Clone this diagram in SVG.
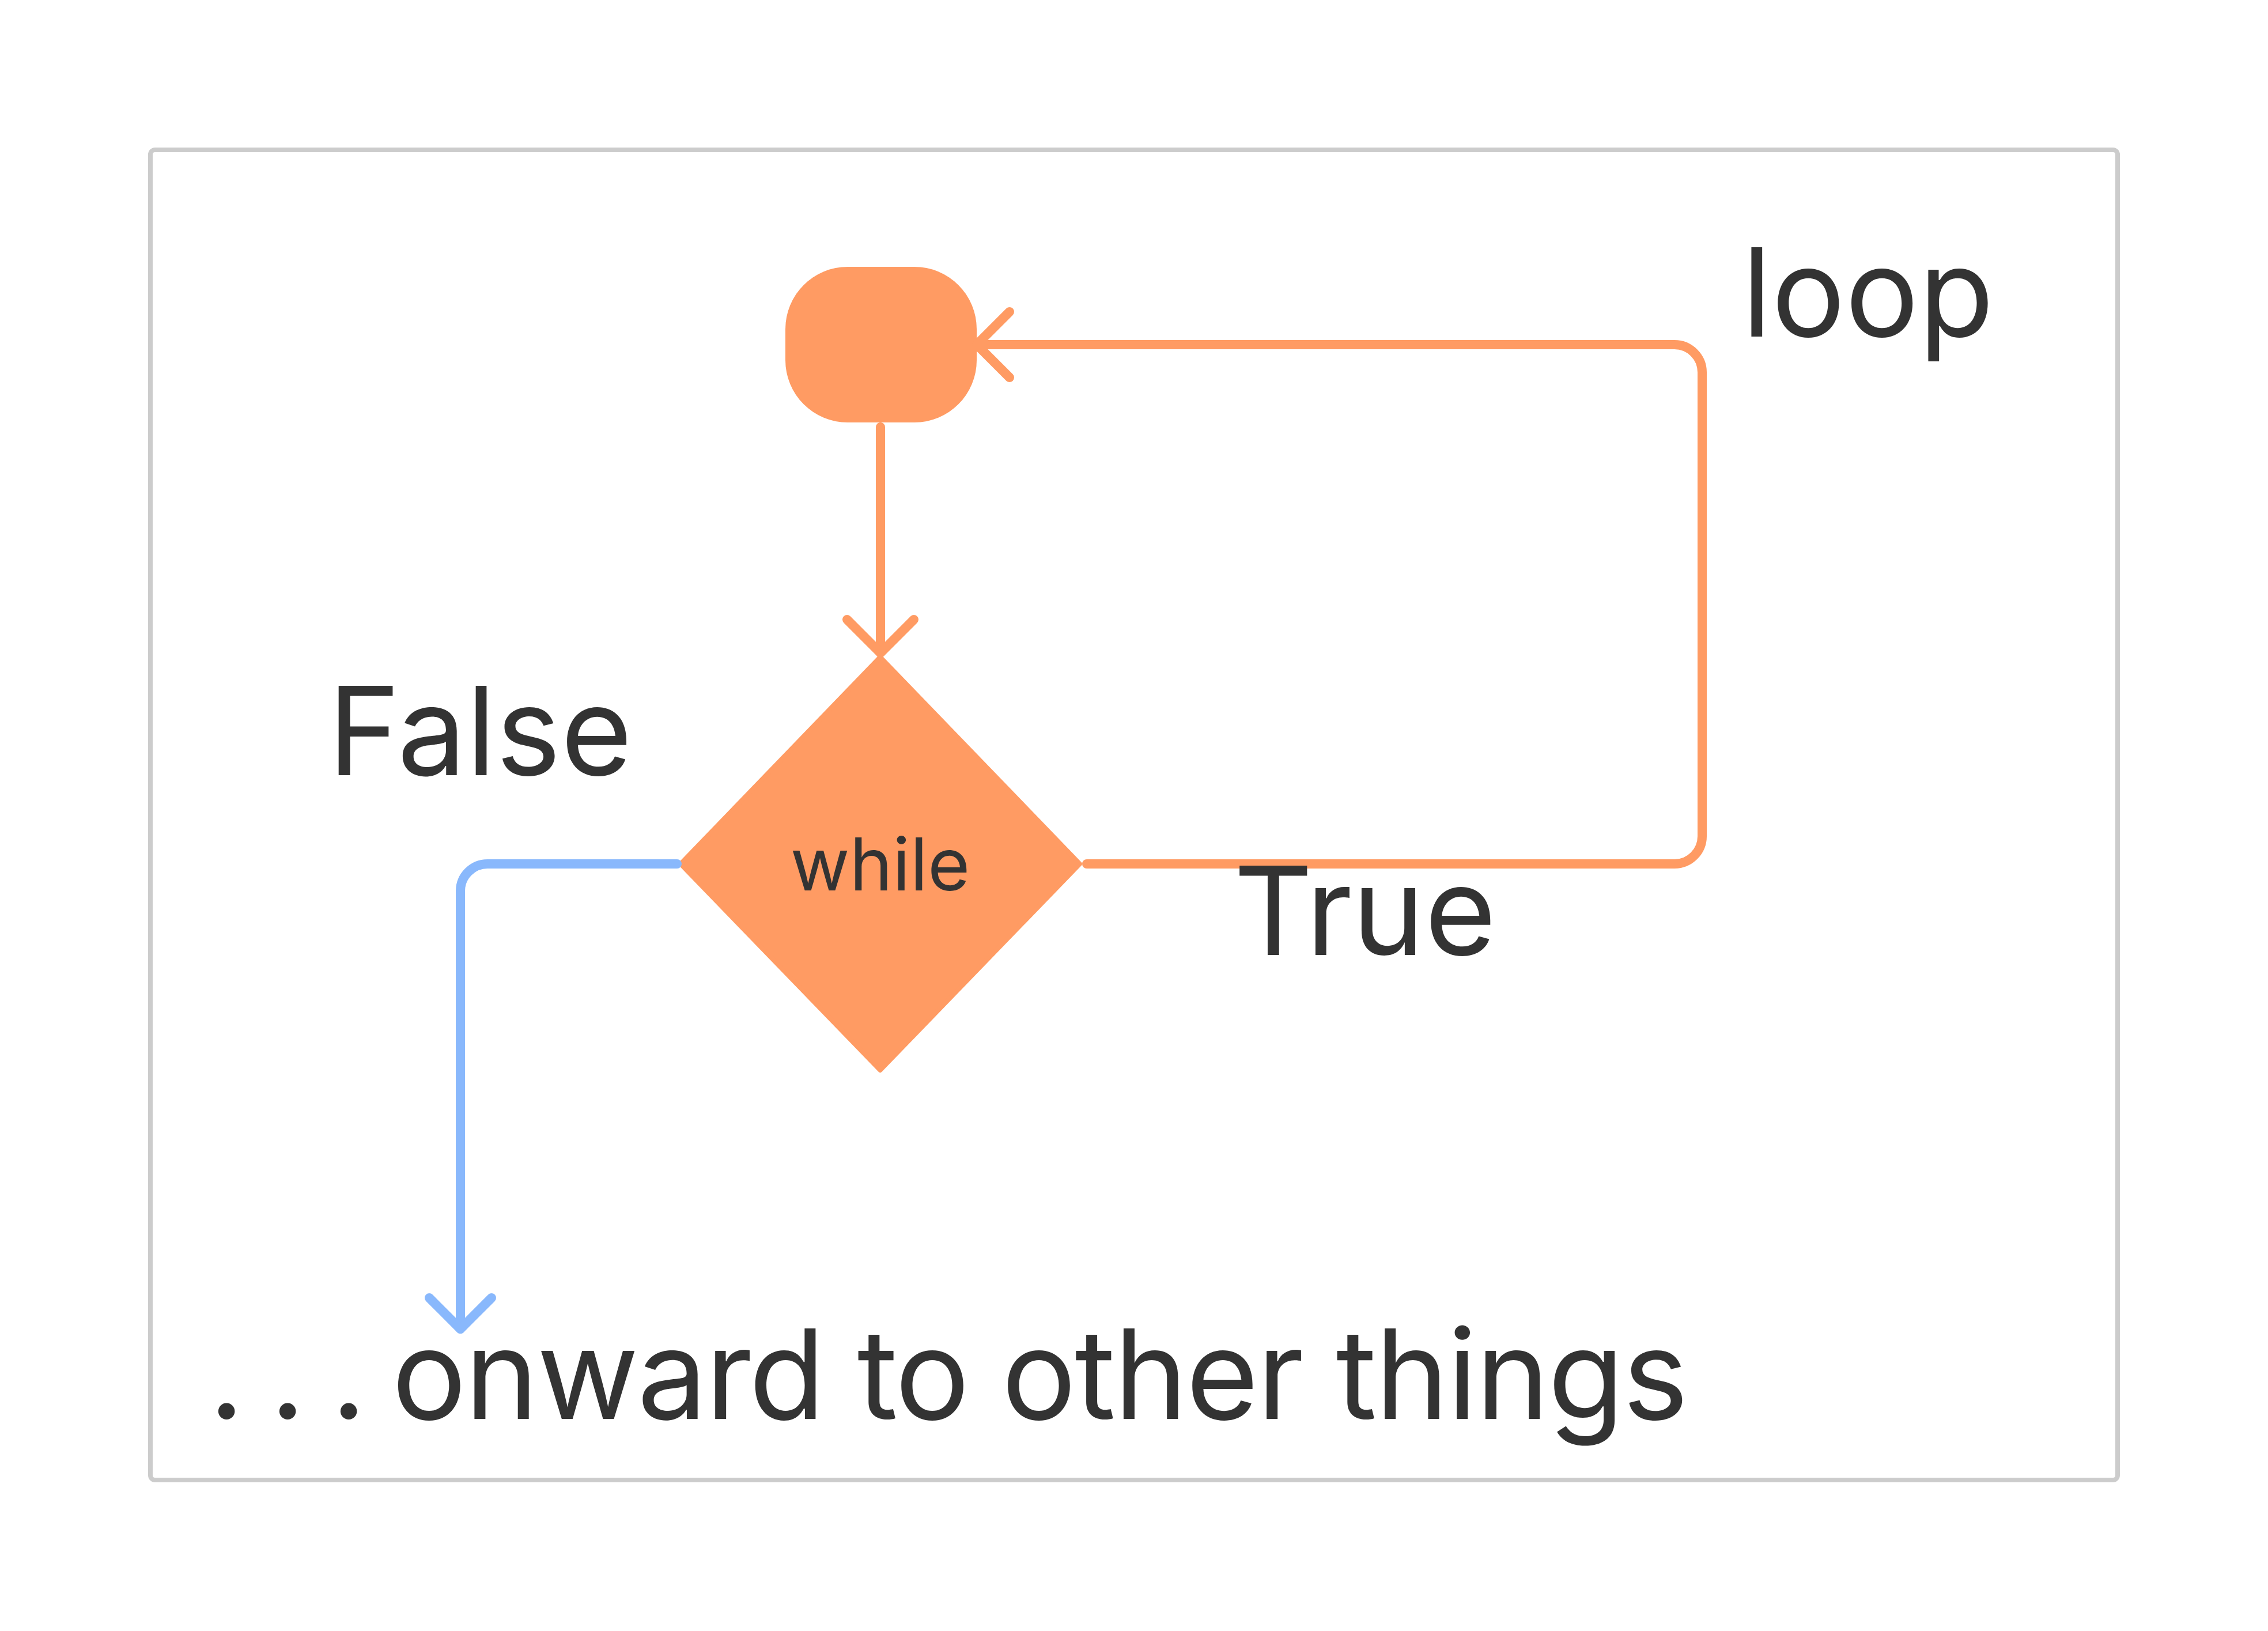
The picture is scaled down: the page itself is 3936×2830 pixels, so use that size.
<svg xmlns="http://www.w3.org/2000/svg" width="3936" height="2830" viewBox="0 0 3936 2830">
<style>
.lbl{font-family:Inter,"Noto Sans","Liberation Sans",sans-serif;fill:#333333;font-size:213px}
.big{font-size:216px}
.node{fill:#FF9B63}
.conn{fill:none;stroke-width:16;stroke-linecap:round;stroke-linejoin:round}
.or{stroke:#FF9B63}
.bl{stroke:#89B8FC}
</style>
<rect width="3936" height="2830" fill="#ffffff"/>
<g id="frame"><rect x="261" y="260" width="3414" height="2308" rx="8" fill="none" stroke="#CCCCCC" stroke-width="8"/></g>
<g id="start"><rect class="node" x="1363" y="463" width="332" height="270" rx="108"/></g>
<g id="while">
<polygon class="node" points="1527.5,1140 1874,1499 1527.5,1857 1181,1499" stroke="#FF9B63" stroke-width="8" stroke-linejoin="round"/>
<text class="lbl" x="1527.5" y="1545" text-anchor="middle" style="font-size:126px">while</text>
</g>
<g id="connectors">
<path class="conn or" d="M1528 741 V1133"/>
<path class="conn or" d="M1470 1075 L1528 1133 L1586 1075"/>
<path class="conn or" d="M1886 1499 H2906 A48 48 0 0 0 2954 1451 V646 A48 48 0 0 0 2906 598 H1700"/>
<path class="conn or" d="M1752 541 L1695 598 L1752 655"/>
<path class="conn bl" d="M1175 1499 H846 A47 47 0 0 0 799 1546 V2306"/>
<path class="conn bl" d="M745 2252 L799 2306 L853 2252"/>
</g>
<g id="labels">
<text class="lbl" x="3023" y="584">loop</text>
<text class="lbl" x="569" y="1345">False</text>
<text class="lbl" x="2141" y="1657">True</text>
<text class="lbl big" y="2462"><tspan x="362">.</tspan><tspan x="468">.</tspan><tspan x="574">.</tspan><tspan x="680" textLength="2250">onward to other things</tspan></text>
</g>
</svg>
